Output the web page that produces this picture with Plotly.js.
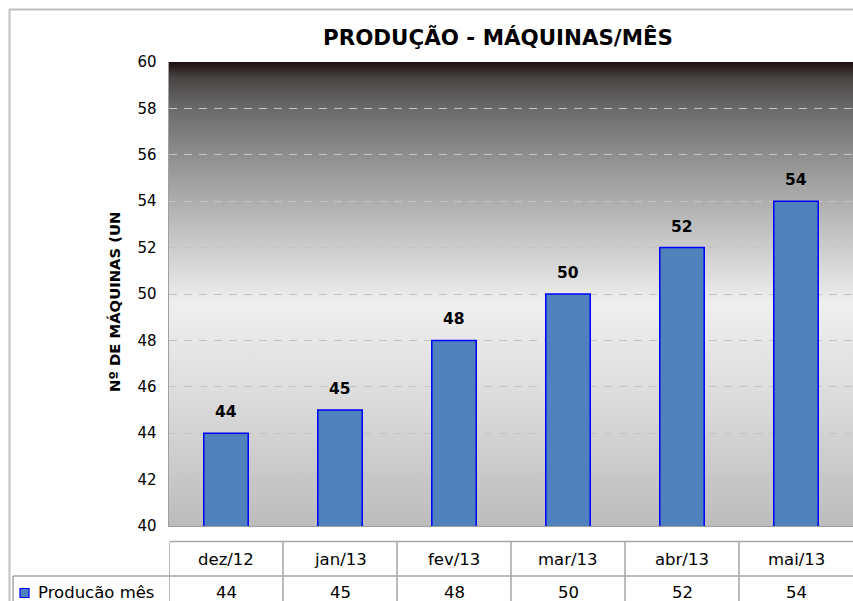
<!DOCTYPE html>
<html>
<head>
<meta charset="utf-8">
<script src="https://cdn.plot.ly/plotly-3.0.1.min.js"></script>
<style>html,body{margin:0;padding:0;background:#fff;}#chart{width:853px;height:601px;}</style>
</head>
<body>
<div id="chart"></div>
<script>
// ---- data ----
var categories = ["dez/12", "jan/13", "fev/13", "mar/13", "abr/13", "mai/13"];
var values = [44, 45, 48, 50, 52, 54];
var seriesName = "Producão mês";
var yTickVals = [40, 42, 44, 46, 48, 50, 52, 54, 56, 58, 60];

// ---- layout geometry (pixels) ----
var W = 853, H = 601;
var mL = 169, mR = 0, mT = 62, mB = 75;
var plotW = W - mL - mR, plotH = H - mT - mB;
function px(X) { return (X - mL) / plotW; }
function py(Y) { return (H - mB - Y) / plotH; }

var font = "DejaVu Sans, Liberation Sans, Arial, sans-serif";
var gridLine = "#a6a6a6";

// gradient background as svg image
var svg = '<svg xmlns="http://www.w3.org/2000/svg" width="100" height="100" viewBox="0 0 100 100" preserveAspectRatio="none">' +
  '<defs><linearGradient id="g" x1="0" y1="0" x2="0" y2="1">' +
  '<stop offset="0" stop-color="#1c0e0e"/>' +
  '<stop offset="0.035" stop-color="#4a4545"/>' +
  '<stop offset="0.1" stop-color="#6a6a6a"/>' +
  '<stop offset="0.2" stop-color="#8e8e8e"/>' +
  '<stop offset="0.35" stop-color="#bdbdbd"/>' +
  '<stop offset="0.52" stop-color="#efefef"/>' +
  '<stop offset="0.7" stop-color="#dedede"/>' +
  '<stop offset="1" stop-color="#bcbcbc"/>' +
  '</linearGradient></defs><rect x="0" y="0" width="100" height="100" fill="url(#g)"/></svg>';
var bgSrc = "data:image/svg+xml;base64," + btoa(svg);

var trace = {
  type: "bar",
  x: categories,
  y: values,
  name: seriesName,
  width: 0.39,
  marker: { color: "#4f81bd", line: { color: "#0000ff", width: 1.5 } },
  hoverinfo: "x+y"
};

var shapes = [];
var annotations = [];
function ann(o) {
  o.showarrow = false;
  if (!o.xanchor) o.xanchor = "center";
  if (!o.yanchor) o.yanchor = "middle";
  annotations.push(o);
}

// outer chart border
shapes.push({ type: "line", xref: "paper", yref: "paper", x0: px(9), x1: px(W + 5), y0: py(9.5), y1: py(9.5), line: { color: "#c0c0c0", width: 2 } });
shapes.push({ type: "line", xref: "paper", yref: "paper", x0: px(9.5), x1: px(9.5), y0: py(9), y1: py(H + 5), line: { color: "#c0c0c0", width: 2 } });

// data table lines
shapes.push({ type: "line", xref: "paper", yref: "paper", x0: px(170), x1: 1, y0: py(541.5), y1: py(541.5), line: { color: gridLine, width: 1.5 } });
shapes.push({ type: "line", xref: "paper", yref: "paper", x0: px(13), x1: 1, y0: py(576), y1: py(576), line: { color: gridLine, width: 1.5 } });
shapes.push({ type: "line", xref: "paper", yref: "paper", x0: px(13), x1: px(13), y0: py(576), y1: py(H + 5), line: { color: gridLine, width: 1.5 } });
for (var i = 0; i < categories.length; i++) {
  shapes.push({ type: "line", xref: "x", yref: "paper", x0: i - 0.5, x1: i - 0.5, y0: py(541.5), y1: py(H + 5), line: { color: gridLine, width: 1.5 } });
  ann({ xref: "x", yref: "paper", x: categories[i], y: py(559.5), text: categories[i], font: { family: font, size: 16.5, color: "#000" } });
  ann({ xref: "x", yref: "paper", x: categories[i], y: py(592.5), text: String(values[i]), font: { family: font, size: 16.5, color: "#000" } });
  // data labels above bars
  ann({ xref: "x", yref: "y", x: categories[i], y: values[i], yshift: 21, text: "<b>" + values[i] + "</b>", font: { family: font, size: 15.5, color: "#000" } });
}
// legend key in table
shapes.push({ type: "rect", xref: "paper", yref: "paper", x0: px(20), x1: px(29), y0: py(597.5), y1: py(588.5), fillcolor: "#4f81bd", line: { color: "#0000ff", width: 1.2 } });
ann({ xref: "paper", yref: "paper", x: px(36), y: py(592.5), xanchor: "left", text: seriesName, font: { family: font, size: 16.5, color: "#000" } });

// y axis title (clipped in the original)
ann({ xref: "paper", yref: "paper", x: px(114), y: py(302), text: "<b>Nº DE MÁQUINAS (UN</b>", textangle: -90, font: { family: font, size: 14.8, color: "#000" } });

var layout = {
  width: W, height: H,
  margin: { l: mL, r: mR, t: mT, b: mB, pad: 0 },
  paper_bgcolor: "#ffffff",
  plot_bgcolor: "rgba(0,0,0,0)",
  showlegend: false,
  title: { text: "<b>PRODUÇÃO - MÁQUINAS/MÊS</b>", x: 498 / W, xref: "container", xanchor: "center", y: 1 - 38 / H, yref: "container", yanchor: "middle", font: { family: font, size: 21.4, color: "#000" } },
  xaxis: { type: "category", range: [-0.5, 5.5], showticklabels: false, showgrid: false, zeroline: false, showline: true, linecolor: "#a0a0a0", linewidth: 1, fixedrange: true },
  yaxis: { range: [40, 60], tickvals: yTickVals, ticktext: yTickVals.map(String), ticks: "", ticklabelstandoff: 8, tickfont: { family: font, size: 15, color: "#000" }, showgrid: true, gridcolor: "#c4c4c4", gridwidth: 1, griddash: "8px,7px", zeroline: false, showline: true, linecolor: "#a0a0a0", linewidth: 1.5, fixedrange: true },
  images: [{ source: bgSrc, xref: "paper", yref: "paper", x: 0, y: 1, sizex: 1, sizey: 1, xanchor: "left", yanchor: "top", sizing: "stretch", layer: "below" }],
  shapes: shapes,
  annotations: annotations,
  bargap: 0.61
};

Plotly.newPlot("chart", [trace], layout, { displayModeBar: false, staticPlot: true });
</script>
</body>
</html>
